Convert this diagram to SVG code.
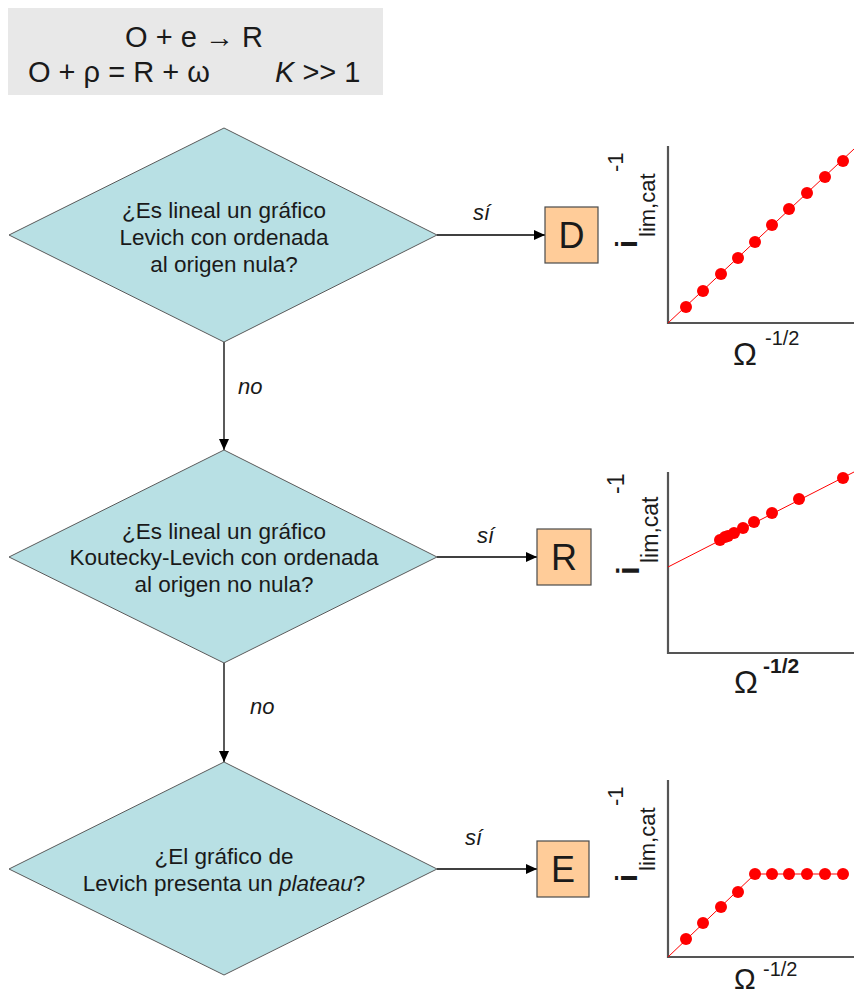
<svg xmlns="http://www.w3.org/2000/svg" width="854" height="997" viewBox="0 0 854 997">
<defs>
<style>
.t{font-family:"Liberation Sans",Arial,sans-serif;fill:#1a1a1a}
.q{font-size:22.5px;text-anchor:middle}
.lab{font-size:22px;font-style:italic}
.dia{fill:#b8e0e4;stroke:#5a5a5a;stroke-width:1}
.box{fill:#ffcc99;stroke:#4a4a4a;stroke-width:1.2}
.bl{font-size:36px;text-anchor:middle}
.con{stroke:#000;stroke-width:1.3;fill:none}
.ax{stroke:#555;stroke-width:2.2;fill:none}
.fit{stroke:#ff0000;stroke-width:1;fill:none}
.pt{fill:#ff0000}
</style>
<marker id="ah" markerWidth="11" markerHeight="10" refX="11" refY="5" orient="auto" markerUnits="userSpaceOnUse">
<path d="M0,0 L11,5 L0,10 z" fill="#000"/>
</marker>
</defs>
<rect width="854" height="997" fill="#ffffff"/>

<g id="header">
<rect x="8" y="8" width="375" height="87" fill="#e8e8e8"/>
<text class="t" x="194" y="47" font-size="29" text-anchor="middle">O + e → R</text>
<text class="t" x="28" y="82" font-size="29">O + ρ = R + ω</text>
<text class="t" x="275" y="82" font-size="29"><tspan font-style="italic">K</tspan> &gt;&gt; 1</text>
</g>

<g id="connectors">
<line class="con" x1="437" y1="235" x2="545" y2="235" marker-end="url(#ah)"/>
<line class="con" x1="437" y1="557" x2="537" y2="557" marker-end="url(#ah)"/>
<line class="con" x1="437" y1="869" x2="537" y2="869" marker-end="url(#ah)"/>
<line class="con" x1="224" y1="342" x2="224" y2="450" marker-end="url(#ah)"/>
<line class="con" x1="224" y1="663" x2="224" y2="762" marker-end="url(#ah)"/>
<text class="t lab" x="473" y="220">sí</text>
<text class="t lab" x="477" y="543">sí</text>
<text class="t lab" x="465" y="845">sí</text>
<text class="t lab" x="238" y="394">no</text>
<text class="t lab" x="250" y="714">no</text>
</g>

<g id="q1">
<polygon class="dia" points="224,128 437,235 224,342 9,235"/>
<text class="t q" x="224" y="218">¿Es lineal un gráfico</text>
<text class="t q" x="224" y="245">Levich con ordenada</text>
<text class="t q" x="224" y="272">al origen nula?</text>
</g>

<g id="q2">
<polygon class="dia" points="224,450 437,557 224,663 9,557"/>
<text class="t q" x="224" y="539">¿Es lineal un gráfico</text>
<text class="t q" x="224" y="565">Koutecky-Levich con ordenada</text>
<text class="t q" x="224" y="592">al origen no nula?</text>
</g>

<g id="q3">
<polygon class="dia" points="224,762 437,869 224,975 9,869"/>
<text class="t q" x="224" y="864">¿El gráfico de</text>
<text class="t q" x="224" y="891">Levich presenta un <tspan font-style="italic">plateau</tspan>?</text>
</g>

<g id="boxD">
<rect class="box" x="545" y="207" width="53" height="56"/>
<text class="t bl" x="571.5" y="248">D</text>
</g>
<g id="boxR">
<rect class="box" x="537" y="529" width="54" height="56"/>
<text class="t bl" x="564" y="570">R</text>
</g>
<g id="boxE">
<rect class="box" x="537" y="841" width="52" height="56"/>
<text class="t bl" x="563" y="882">E</text>
</g>

<g id="plot1">
<polyline class="ax" points="668,146 668,323 854,323"/>
<line class="fit" x1="668" y1="323" x2="854" y2="149"/>
<g class="pt">
<circle cx="686" cy="307" r="6"/><circle cx="703" cy="291" r="6"/><circle cx="721" cy="274" r="6"/>
<circle cx="738" cy="258" r="6"/><circle cx="755" cy="242" r="6"/><circle cx="772" cy="225" r="6"/>
<circle cx="789" cy="209" r="6"/><circle cx="807" cy="193" r="6"/><circle cx="825" cy="177" r="6"/>
<circle cx="843" cy="161" r="6"/>
</g>
<g transform="translate(637,248) rotate(-90)">
<text class="t" font-size="29" font-weight="bold">i</text>
<text class="t" x="11" y="18" font-size="22">lim,cat</text>
<text class="t" x="76" y="-14" font-size="22">-1</text>
</g>
<text class="t" x="733" y="365" font-size="32">Ω</text>
<text class="t" x="765" y="345" font-size="20">-1/2</text>
</g>

<g id="plot2">
<polyline class="ax" points="668,472 668,653 854,653"/>
<line class="fit" x1="668" y1="567" x2="854" y2="472"/>
<g class="pt">
<circle cx="720" cy="540" r="6"/><circle cx="725" cy="537" r="6"/><circle cx="728" cy="536" r="6"/>
<circle cx="734" cy="533" r="6"/><circle cx="743" cy="528" r="6"/><circle cx="754" cy="522" r="6"/>
<circle cx="772" cy="513" r="6"/><circle cx="799" cy="499" r="6"/><circle cx="843" cy="478" r="6"/>
</g>
<g transform="translate(639,575) rotate(-90)">
<text class="t" font-size="31" font-weight="bold">i</text>
<text class="t" x="12" y="19" font-size="23">lim,cat</text>
<text class="t" x="81" y="-15" font-size="23">-1</text>
</g>
<text class="t" x="734" y="693" font-size="32">Ω</text>
<text class="t" x="763" y="673" font-size="21" font-weight="bold">-1/2</text>
</g>

<g id="plot3">
<polyline class="ax" points="668,780 668,957 854,957"/>
<polyline class="fit" points="668,957 755,874 843,874"/>
<g class="pt">
<circle cx="686" cy="939" r="6"/><circle cx="703" cy="923" r="6"/><circle cx="721" cy="907" r="6"/>
<circle cx="738" cy="892" r="6"/><circle cx="755" cy="874" r="6"/><circle cx="772" cy="874" r="6"/>
<circle cx="789" cy="874" r="6"/><circle cx="807" cy="874" r="6"/><circle cx="825" cy="874" r="6"/>
<circle cx="843" cy="874" r="6"/>
</g>
<g transform="translate(637,882) rotate(-90)">
<text class="t" font-size="29" font-weight="bold">i</text>
<text class="t" x="11" y="18" font-size="22">lim,cat</text>
<text class="t" x="76" y="-14" font-size="22">-1</text>
</g>
<text class="t" x="734" y="989" font-size="29">Ω</text>
<text class="t" x="763" y="976" font-size="20">-1/2</text>
</g>
</svg>
